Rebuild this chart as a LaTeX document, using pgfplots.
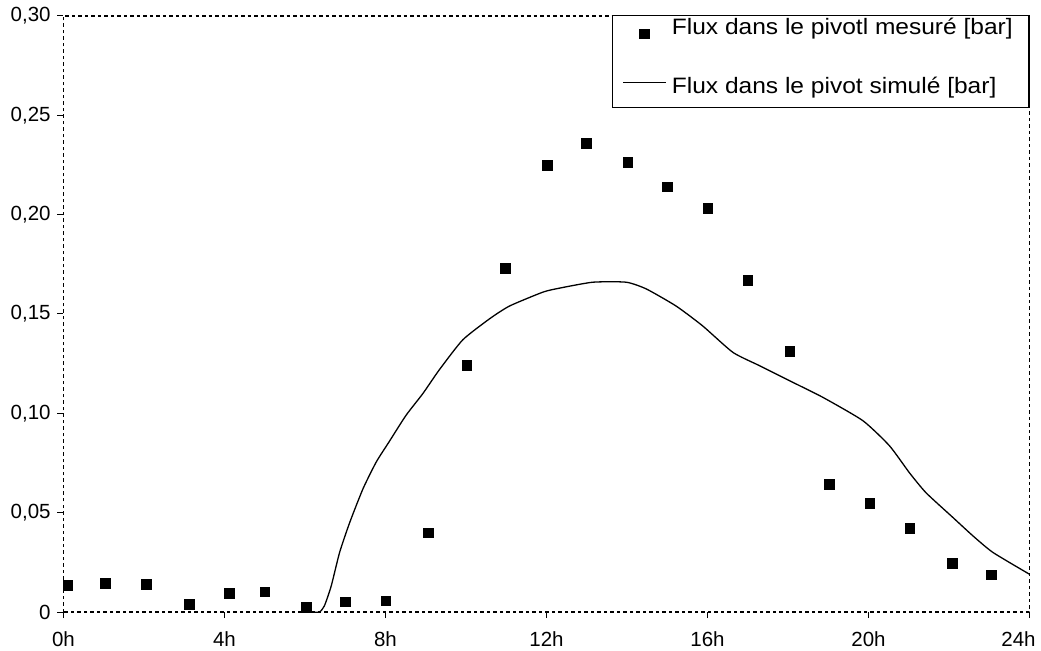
\documentclass[border=0pt]{standalone}
\usepackage{fontspec}
\setmainfont{Liberation Sans}
\newfontfamily\legendfont{Liberation Sans}[FakeStretch=1.10]
\usepackage{pgfplots}
\pgfplotsset{compat=1.18}

% measured pressure (hourly readings)
\pgfplotstableread{
t     p
0.10  0.0136
1.04  0.0144
2.05  0.0141
3.12  0.0040
4.11  0.0094
5.00  0.0102
6.03  0.0024
7.00  0.0052
8.00  0.0057
9.06  0.0399
10.02 0.1243
10.98 0.1730
12.02 0.2250
12.99 0.2360
14.02 0.2265
15.00 0.2140
16.00 0.2034
17.00 0.1670
18.04 0.1314
19.03 0.0644
20.03 0.0547
21.02 0.0423
22.08 0.0245
23.05 0.0188
}\measured

% simulated pressure
\pgfplotstableread{
t     p
6.20  0.0000
6.36  0.0000
6.48  0.0030
6.65  0.0130
6.86  0.0300
7.11  0.0450
7.44  0.0620
7.77  0.0755
8.10  0.0860
8.51  0.0990
8.93  0.1100
9.34  0.1220
9.92  0.1370
10.58 0.1475
11.08 0.1540
11.91 0.1610
12.32 0.1630
13.15 0.1660
13.98 0.1660
14.48 0.1626
15.22 0.1540
15.88 0.1440
16.63 0.1307
17.29 0.1240
18.12 0.1156
18.87 0.1080
19.86 0.0963
20.52 0.0837
21.02 0.0700
21.43 0.0600
22.09 0.0477
22.59 0.0384
23.09 0.0300
24.00 0.0190
}\simulated

\begin{document}
\begin{tikzpicture}
\useasboundingbox (-63.5bp,-39bp) rectangle (977.5bp,612bp);
\begin{axis}[
  scale only axis, width=966bp, height=596bp,
  xmin=0, xmax=24, ymin=0, ymax=0.30,
  clip=false,
  xtick={0,4,8,12,16,20,24},
  xticklabels={0h,4h,8h,12h,16h,20h,\hspace*{-22bp}24h},
  ytick={0,0.05,0.10,0.15,0.20,0.25,0.30},
  yticklabels={0,{0,05},{0,10},{0,15},{0,20},{0,25},{0,30}},
  tick pos=left, tick align=outside, major tick length=6bp,
  tick style={black, line width=1bp, solid},
  axis line style={line width=1.2bp, dash pattern=on 3.5bp off 3bp},
  ticklabel style={font=\fontsize{20.5bp}{24bp}\selectfont},
  xticklabel style={yshift=-10bp},
  yticklabel style={xshift=-3.4bp},
  legend cell align=left,
  legend style={at={(rel axis cs:1,1)}, anchor=north east, yshift=1bp,
    draw=black, line width=1.5bp, inner xsep=10bp, inner ysep=5bp,
    font=\legendfont\fontsize{22.3bp}{26bp}\selectfont,
    row sep=36bp,
    nodes={inner sep=0pt, text height=14bp, text depth=9bp, anchor=base west},
    /tikz/every odd column/.style={column sep=5bp}},
]
\addplot[only marks, mark=square*, mark size=4.8bp, black,
  mark options={rounded corners=1.5bp},
  legend image code/.code={
    \path (0bp,0bp) (43bp,0bp);
    \draw[black, line width=0.4bp, rounded corners=1.5bp]
      plot[mark=square*, mark size=4.8bp] coordinates {(21bp,1bp)};
  }] table[x=t, y=p] {\measured};
\addlegendentry{Flux dans le pivotl mesuré [bar]\hspace*{6bp}}

\addplot[black, line width=1.3bp, no marks, smooth, tension=0.35,
  legend image code/.code={
    \draw[black, line width=1.3bp] (0bp,11bp) -- (43bp,11bp);
  }] table[x=t, y=p] {\simulated};
\addlegendentry{Flux dans le pivot simulé [bar]}
\end{axis}
\end{tikzpicture}
\end{document}
